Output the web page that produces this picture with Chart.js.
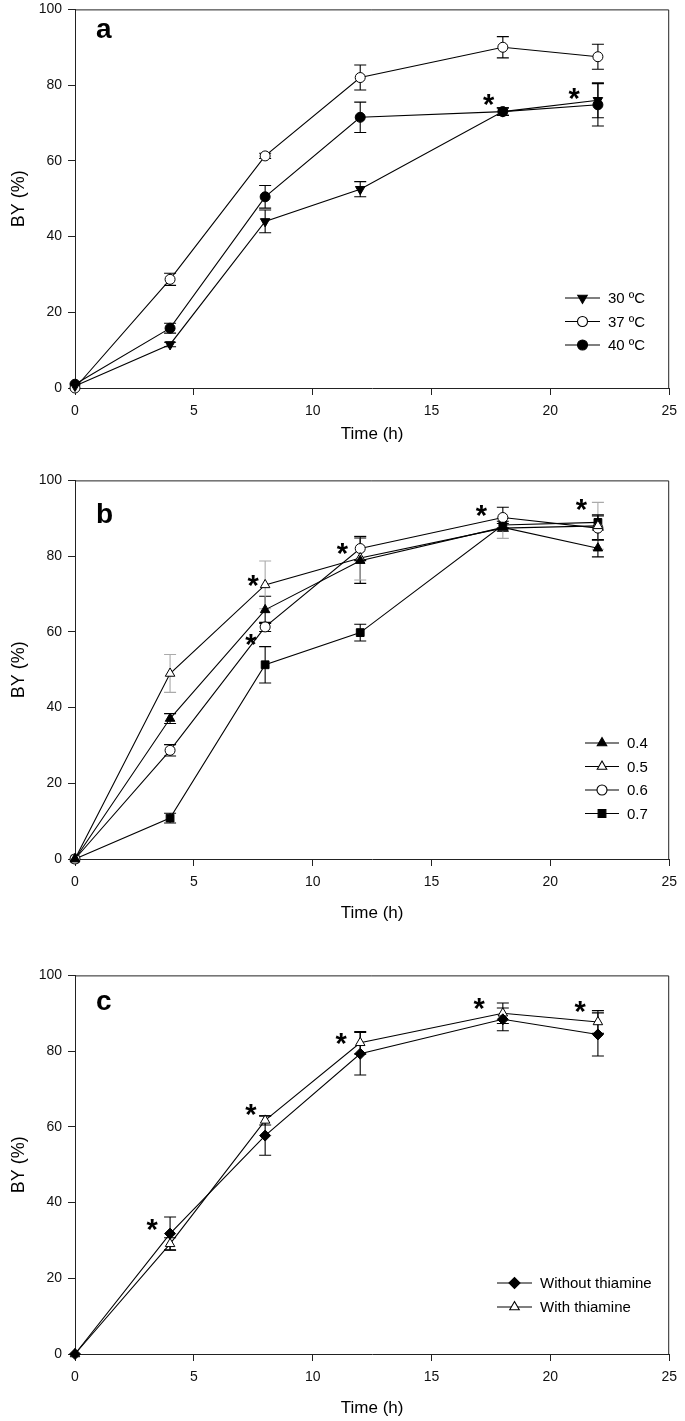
<!DOCTYPE html>
<html>
<head>
<meta charset="utf-8">
<script src="https://cdn.jsdelivr.net/npm/chart.js@4.4.1/dist/chart.umd.min.js"></script>
<style>
  body { margin: 0; background: #fff; width: 685px; height: 1421px; position: relative; overflow: hidden; }
  canvas { position: absolute; left: 0; }
</style>
</head>
<body>
<canvas id="chartA" width="685" height="450" style="top:-5px"></canvas>
<canvas id="chartB" width="685" height="458" style="top:466px"></canvas>
<canvas id="chartC" width="685" height="458" style="top:961px"></canvas>
<script>
const times = [0, 4, 8, 12, 18, 22];
const xTicks = [0, 5, 10, 15, 20, 25];
const yTicks = [0, 20, 40, 60, 80, 100];
const xTitle = 'Time (h)';
const yTitle = 'BY (%)';
const panelLetters = ['a', 'b', 'c'];

// panel a - temperature
const tempLabels = ['30 ºC', '37 ºC', '40 ºC'];
const by30 = [0.5, 11.5, 44, 52.5, 73, 76];
const err30 = [0, 0.6, 3, 2, 1, 4.6];
const by37 = [0, 28.7, 61.3, 82, 90, 87.5];
const err37 = [0, 1.6, 0.7, 3.3, 2.8, 3.3];
const by40 = [1, 15.8, 50.5, 71.5, 73, 74.8];
const err40 = [0, 1.3, 3, 4, 1, 5.6];
const starsA = [[17.4, 76], [21.0, 77.6]];

// panel b - ratio
const ratioLabels = ['0.4', '0.5', '0.6', '0.7'];
const by04 = [0, 37.1, 65.8, 78.8, 87.6, 82.1];
const err04 = [0, 1.3, 3.6, 6, 1, 2.3];
const by05 = [0, 49, 72.4, 79.5, 87.4, 88];
const err05 = [0, 5, 6.3, 5.8, 2.7, 6.2];
const by06 = [0, 28.7, 61.3, 82, 90.2, 87.4];
const err06 = [0, 1.5, 1.2, 3.2, 2.7, 3.2];
const by07 = [0, 10.8, 51.3, 59.8, 88.2, 88.9];
const err07 = [0, 1.3, 4.8, 2.2, 1, 2];
const starsB = [[7.5, 73.4], [7.4, 57.9], [11.25, 81.8], [17.1, 91.8], [21.3, 93.4]];

// panel c - thiamine
const thiaLabels = ['Without thiamine', 'With thiamine'];
const byWithout = [0, 31.8, 57.7, 79.3, 88.4, 84.4];
const errWithout = [0, 4.4, 5.2, 5.6, 3, 5.7];
const byWith = [0, 29.1, 61.7, 82.2, 90, 87.7];
const errWith = [0, 1.6, 1.2, 3, 2.7, 3];
const starsC = [[3.25, 34], [7.4, 64.4], [11.2, 83.2], [17, 92.4], [21.25, 91.6]];

const FONT = '"Liberation Sans", Arial, Helvetica, sans-serif';

function series(label, values, errors, shape, filled, extra) {
  return Object.assign({
    label: label,
    data: times.map((t, i) => ({ x: t, y: values[i] })),
    errors: errors,
    borderColor: '#000',
    borderWidth: 1.1,
    pointStyle: shape,
    pointRadius: 5,
    pointHoverRadius: 5,
    pointBorderWidth: 1,
    pointBorderColor: '#000',
    pointBackgroundColor: filled ? '#000' : '#fff',
    tension: 0,
    clip: false
  }, extra || {});
}

const errorBars = {
  id: 'errorBars',
  beforeDatasetsDraw(chart, args, opts) {
    const { ctx, scales: { x, y } } = chart;
    ctx.save();
    ctx.lineWidth = 1.1;
    chart.data.datasets.forEach(ds => {
      if (!ds.errors) return;
      ctx.strokeStyle = ds.errorColor || '#000';
      ds.data.forEach((p, i) => {
        const e = ds.errors[i];
        if (!e) return;
        const px = x.getPixelForValue(p.x);
        const top = y.getPixelForValue(p.y + e);
        const bot = y.getPixelForValue(p.y - e);
        const c = opts.cap;
        ctx.beginPath();
        ctx.moveTo(px, top); ctx.lineTo(px, bot);
        ctx.moveTo(px - c, top); ctx.lineTo(px + c, top);
        ctx.moveTo(px - c, bot); ctx.lineTo(px + c, bot);
        ctx.stroke();
      });
    });
    ctx.restore();
  }
};

// top and right sides of the plot box
const frame = {
  id: 'frame',
  beforeDatasetsDraw(chart) {
    const { ctx, chartArea: a } = chart;
    ctx.save();
    ctx.strokeStyle = '#222';
    ctx.lineWidth = 1;
    ctx.beginPath();
    ctx.moveTo(a.left, a.top + 0.5);
    ctx.lineTo(a.right - 0.5, a.top + 0.5);
    ctx.lineTo(a.right - 0.5, a.bottom);
    ctx.stroke();
    ctx.restore();
  }
};

const marks = {
  id: 'marks',
  afterDatasetsDraw(chart, args, opts) {
    const { ctx, scales: { x, y } } = chart;
    ctx.save();
    ctx.fillStyle = '#000';
    // panel letter
    ctx.font = 'bold 28px ' + FONT;
    ctx.textAlign = 'left';
    ctx.textBaseline = 'alphabetic';
    ctx.fillText(opts.letter, opts.letterX, opts.letterY);
    // asterisks
    ctx.font = 'bold 29px ' + FONT;
    ctx.textAlign = 'center';
    const m = ctx.measureText('*');
    const shift = (m.actualBoundingBoxAscent - m.actualBoundingBoxDescent) / 2;
    opts.stars.forEach(s => {
      ctx.fillText('*', x.getPixelForValue(s[0]), y.getPixelForValue(s[1]) + shift);
    });
    // legend
    const L = opts.legend;
    ctx.font = '15px ' + FONT;
    ctx.textAlign = 'left';
    ctx.textBaseline = 'middle';
    chart.data.datasets.forEach((ds, i) => {
      const ly = L.y + i * L.gap;
      ctx.strokeStyle = '#000';
      ctx.lineWidth = 1.1;
      ctx.beginPath();
      ctx.moveTo(L.x, ly); ctx.lineTo(L.x + L.len, ly);
      ctx.stroke();
      ctx.fillStyle = ds.pointBackgroundColor;
      ctx.strokeStyle = '#000';
      Chart.helpers.drawPoint(ctx, {
        pointStyle: ds.pointStyle, rotation: ds.pointRotation || 0,
        radius: ds.pointRadius, borderWidth: 1
      }, L.x + L.len / 2, ly);
      ctx.fillStyle = '#000';
      ctx.fillText(ds.label, L.x + L.len + 8, ly + 1);
    });
    ctx.restore();
  }
};

function makePanel(id, datasets, xAxisHeight, markOpts) {
  return new Chart(document.getElementById(id), {
    type: 'line',
    data: { datasets: datasets },
    plugins: [frame, errorBars, marks],
    options: {
      responsive: false,
      animation: false,
      events: [],
      layout: { padding: { top: 12, left: 0, right: 10, bottom: 0 } },
      plugins: {
        legend: { display: false },
        tooltip: { enabled: false },
        errorBars: { cap: 6 },
        marks: markOpts
      },
      scales: {
        x: {
          type: 'linear', min: 0, max: 25,
          afterBuildTicks: s => { s.ticks = xTicks.map(v => ({ value: v })); },
          afterFit: s => { s.height = xAxisHeight; },
          ticks: { font: { family: FONT, size: 14 }, color: '#111', padding: 8, maxRotation: 0 },
          grid: { drawOnChartArea: false, drawTicks: true, tickLength: 7, color: '#222', lineWidth: 1 },
          border: { display: true, color: '#222', width: 1 },
          title: { display: true, text: xTitle, font: { family: FONT, size: 17 }, color: '#000', padding: 0 }
        },
        y: {
          type: 'linear', min: 0, max: 100,
          afterBuildTicks: s => { s.ticks = yTicks.map(v => ({ value: v })); },
          afterFit: s => { s.width = 75; },
          ticks: { font: { family: FONT, size: 14 }, color: '#111', padding: 6 },
          grid: { drawOnChartArea: false, drawTicks: true, tickLength: 7, color: '#222', lineWidth: 1 },
          border: { display: true, color: '#222', width: 1 },
          title: { display: true, text: yTitle, font: { family: FONT, size: 18 }, color: '#000', padding: { top: 8, bottom: 0 } }
        }
      }
    }
  });
}

// panel a (canvas top -5)
makePanel('chartA', [
  series(tempLabels[0], by30, err30, 'triangle', true, { pointRotation: 180, pointRadius: 5.5 }),
  series(tempLabels[1], by37, err37, 'circle', false),
  series(tempLabels[2], by40, err40, 'circle', true)
], 57, {
  letter: panelLetters[0], letterX: 96, letterY: 43,
  stars: starsA,
  legend: { x: 565, y: 303, gap: 23.5, len: 35 }
});

// panel b (canvas top 466)
makePanel('chartB', [
  series(ratioLabels[0], by04, err04, 'triangle', true, { pointRadius: 5.5 }),
  series(ratioLabels[1], by05, err05, 'triangle', false, { pointRadius: 5.5, errorColor: '#aaa' }),
  series(ratioLabels[2], by06, err06, 'circle', false),
  series(ratioLabels[3], by07, err07, 'rect', true, { pointRadius: 5.5 })
], 65, {
  letter: panelLetters[1], letterX: 96, letterY: 57,
  stars: starsB,
  legend: { x: 585, y: 277, gap: 23.5, len: 34 }
});

// panel c (canvas top 961)
makePanel('chartC', [
  series(thiaLabels[0], byWithout, errWithout, 'rectRot', true, { pointRadius: 5.5 }),
  series(thiaLabels[1], byWith, errWith, 'triangle', false, { pointRadius: 5.5 })
], 65, {
  letter: panelLetters[2], letterX: 96, letterY: 49,
  stars: starsC,
  legend: { x: 497, y: 322, gap: 24, len: 35 }
});
</script>
</body>
</html>
